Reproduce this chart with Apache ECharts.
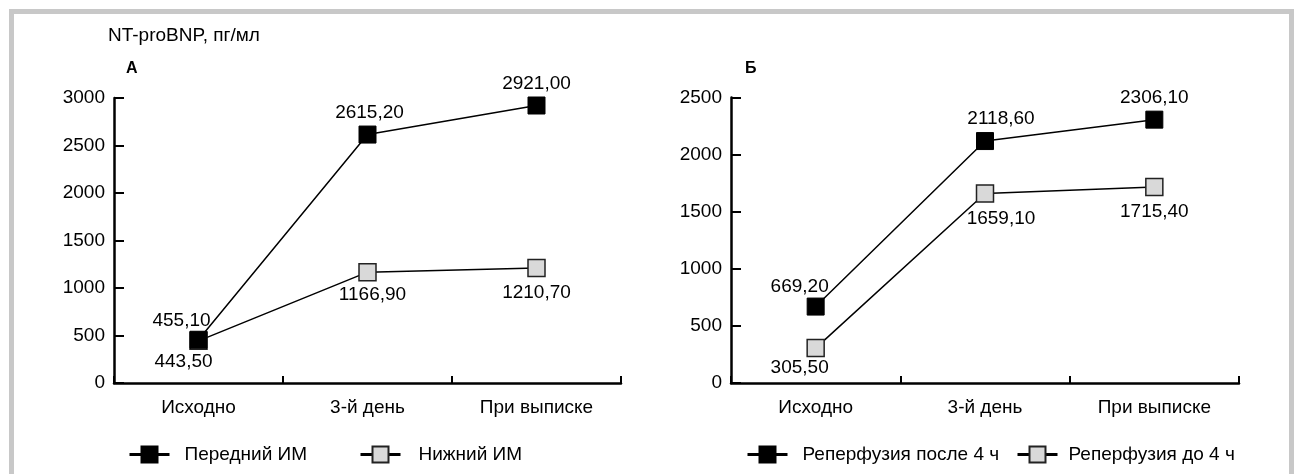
<!DOCTYPE html>
<html>
<head>
<meta charset="utf-8">
<script src="https://cdn.jsdelivr.net/npm/echarts@6/dist/echarts.min.js"></script>
<style>
html,body{margin:0;padding:0;background:#fff;}
#chart{width:1294px;height:474px;}
</style>
</head>
<body>
<div id="chart"></div>
<script>
// ---- data ----
var categories = ['Исходно', '3-й день', 'При выписке'];
var yTitle = 'NT-proBNP, пг/мл';
var panelA = 'А';
var panelB = 'Б';
var seriesA1Name = 'Передний ИМ';
var seriesA1 = [455.10, 2615.20, 2921.00];
var seriesA2Name = 'Нижний ИМ';
var seriesA2 = [443.50, 1166.90, 1210.70];
var seriesB1Name = 'Реперфузия после 4 ч';
var seriesB1 = [669.20, 2118.60, 2306.10];
var seriesB2Name = 'Реперфузия до 4 ч';
var seriesB2 = [305.50, 1659.10, 1715.40];
var yMaxA = 3000, yMaxB = 2500, yStep = 500;

// ---- label placement (layout only) ----
var placeA1 = [{p:'top', dx:-17, d:0}, {p:'top', dx:2, d:3}, {p:'top', dx:0, d:3}];
var placeA2 = [{p:'bottom', dx:-15, d:2}, {p:'bottom', dx:5, d:4}, {p:'bottom', dx:0, d:6}];
var placeB1 = [{p:'top', dx:-16, d:1}, {p:'top', dx:16, d:4}, {p:'top', dx:0, d:3}];
var placeB2 = [{p:'bottom', dx:-16, d:1}, {p:'bottom', dx:16, d:6}, {p:'bottom', dx:0, d:6}];

var FONT = '"Liberation Sans", Arial, sans-serif';
var FS = 19;

function fmt(v){ return v.toFixed(2).replace('.', ','); }

function buildData(vals, place){
  return vals.map(function(v, i){
    return {
      value: v,
      label: {
        position: place[i].p,
        distance: place[i].d,
        offset: [place[i].dx, 0]
      }
    };
  });
}

function mkSeries(name, vals, place, filled, gi, z){
  return {
    name: name,
    type: 'line',
    xAxisIndex: gi,
    yAxisIndex: gi,
    z: z,
    symbol: 'rect',
    symbolSize: 17,
    lineStyle: {color: '#000', width: 1.5},
    itemStyle: filled ? {color: '#000', borderColor: '#000', borderWidth: 1} :
                        {color: '#d9d9d9', borderColor: '#222', borderWidth: 1.5},
    label: {
      show: true,
      color: '#000',
      fontFamily: FONT,
      fontSize: FS,
      formatter: function(p){ return fmt(p.value); }
    },
    data: buildData(vals, place),
    animation: false
  };
}

function mkX(gi){
  return {
    type: 'category',
    gridIndex: gi,
    data: categories,
    boundaryGap: true,
    axisLine: {lineStyle: {color: '#000', width: 2.5}},
    axisTick: {show: true, inside: true, length: 7, lineStyle: {color: '#000', width: 2}},
    axisLabel: {color: '#000', fontFamily: FONT, fontSize: FS, margin: 15}
  };
}
function mkY(gi, max){
  return {
    type: 'value',
    gridIndex: gi,
    min: 0, max: max, interval: yStep,
    axisLine: {show: true, lineStyle: {color: '#000', width: 2.5}},
    axisTick: {show: true, inside: true, length: 10, lineStyle: {color: '#000', width: 2}},
    splitLine: {show: false},
    axisLabel: {color: '#000', fontFamily: FONT, fontSize: FS, margin: 9,
                formatter: function(v){ return String(v); }}
  };
}

function mkLegend(name, left, pad){
  return {
    data: [name],
    left: left,
    top: 445,
    padding: 0,
    itemWidth: 40,
    itemHeight: 20,
    lineStyle: {width: 3, color: '#000'},
    textStyle: {color: '#000', fontFamily: FONT, fontSize: FS, padding: [0,0,0,pad]},
    selectedMode: false
  };
}

var chart = echarts.init(document.getElementById('chart'), null, {renderer: 'canvas'});
chart.setOption({
  backgroundColor: '#fff',
  animation: false,
  graphic: [
    {type: 'rect', shape: {x: 11.5, y: 11.5, width: 1280, height: 500},
     style: {fill: 'none', stroke: '#c8c8c8', lineWidth: 5}, silent: true},
    {type: 'text', left: 108, top: 26,
     style: {text: yTitle, font: FS + 'px ' + FONT, fill: '#000'}},
    {type: 'text', left: 126, top: 61,
     style: {text: panelA, font: 'bold 16px ' + FONT, fill: '#000'}},
    {type: 'text', left: 745, top: 61,
     style: {text: panelB, font: 'bold 16px ' + FONT, fill: '#000'}}
  ],
  grid: [
    {left: 114, top: 98, width: 507, bottom: 91, containLabel: false},
    {left: 731, top: 97.5, width: 508, bottom: 91, containLabel: false}
  ],
  xAxis: [mkX(0), mkX(1)],
  yAxis: [mkY(0, yMaxA), mkY(1, yMaxB)],
  legend: [
    mkLegend(seriesA1Name, 128, 10),
    mkLegend(seriesA2Name, 359, 13),
    mkLegend(seriesB1Name, 746, 10),
    mkLegend(seriesB2Name, 1016, 6)
  ],
  series: [
    mkSeries(seriesA1Name, seriesA1, placeA1, true, 0, 4),
    mkSeries(seriesA2Name, seriesA2, placeA2, false, 0, 3),
    mkSeries(seriesB1Name, seriesB1, placeB1, true, 1, 4),
    mkSeries(seriesB2Name, seriesB2, placeB2, false, 1, 3)
  ]
});
</script>
</body>
</html>
